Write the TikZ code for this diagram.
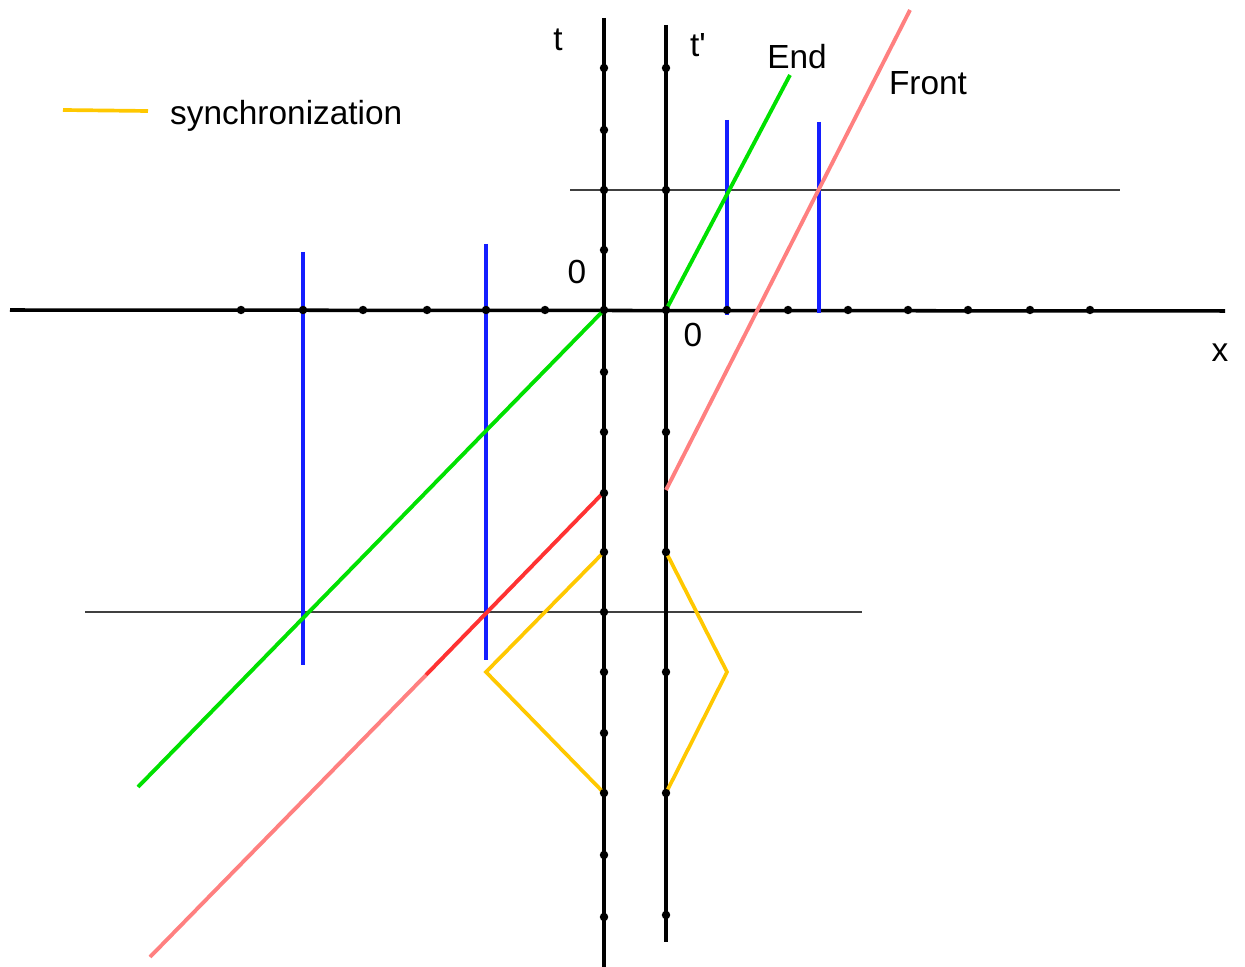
\documentclass[tikz,border=0pt]{standalone}
\usepackage{fontspec}
\setmainfont{Liberation Sans}
\usepackage{xcolor}
\definecolor{endgreen}{RGB}{0,225,0}
\definecolor{frontpink}{RGB}{255,128,128}
\definecolor{frontred}{RGB}{255,50,50}
\definecolor{rodblue}{RGB}{20,30,255}
\definecolor{syncyellow}{RGB}{255,200,0}
\usetikzlibrary{positioning,calc}

\begin{document}
\begin{tikzpicture}[
  x=0.01cm, y=-0.01cm,
  font=\fontsize{9.5}{11}\selectfont,
  axis/.style={black, line width=1pt},
  simline/.style={black!75, line width=0.45pt},
  world/.style={line width=1.1pt, color=#1},
  rod/.style={line width=1pt, color=rodblue},
  sync/.style={line width=1.05pt, color=syncyellow},
  lbl/.style={inner sep=1pt}
]
\useasboundingbox (0,0) rectangle (1245,967);

% origins of the two frames
\coordinate (O) at (604,310);
\coordinate (Op) at (666,310);

% lines of simultaneity
\draw[simline] (570,190) -- (1120,190);
\draw[simline] (85,612) -- (862,612);

% axes
\draw[axis] (10,310) -- (1225,311);
\draw[axis] (604,18) -- (604,967);
\draw[axis] (666,25) -- (666,942);

% rods
\draw[rod] (303,252) -- (303,665);
\draw[rod] (486,244) -- (486,660);
\draw[rod] (727,120) -- (727,315);
\draw[rod] (819,122) -- (819,313);

% world lines
\coordinate (endTop) at (790,75);
\coordinate (endLow) at (138,787);
\draw[world=endgreen] (Op) -- (endTop);
\draw[world=endgreen] (O) -- (endLow);

\coordinate (frontTop) at (910,10);
\coordinate (frontStart) at (666,490);
\coordinate (redStart) at (604,492);
\coordinate (redEnd) at (426,675);
\coordinate (frontLow) at (150,957);
\draw[world=frontpink] (frontStart) -- (frontTop);
\draw[world=frontpink] (redEnd) -- (frontLow);
\draw[world=frontred] (redStart) -- (redEnd);

% synchronization signals
\draw[sync, line join=miter] (604,552) -- (486,672) -- (604,793);
\draw[sync, line join=miter] (666,552) -- (727,672) -- (666,793);

% ticks
\foreach \ty in {68,130,190,250,310,372,432,493,552,612,672,733,793,855,917} {
  \fill (604,\ty) circle (1.2pt);
}
\foreach \ty in {68,190,310,432,552,672,793,915} {
  \fill (666,\ty) circle (1.2pt);
}
\foreach \tx in {241,303,363,427,486,545,727,788,848,908,968,1030,1090} {
  \fill (\tx,310) circle (1.2pt);
}

% legend
\coordinate (legA) at (63,110);
\coordinate (legB) at (148,111);
\draw[sync] (legA) -- (legB);
\node[lbl, anchor=west] (legtext) at (166,116) {synchronization};

% labels
\node[lbl] (tlbl) at (558,40) {t};
\node[lbl] (tplbl) at (698,45) {t\textquotesingle};
\node[lbl] (endlbl) at (797,57) {End};
\node[lbl] (frontlbl) at (928,83) {Front};
\node[lbl] (zero) at (577,272) {0};
\node[lbl] (zerop) at (693,335) {0};
\node[lbl] (xlbl) at (1220,353) {x};
\end{tikzpicture}
\end{document}
